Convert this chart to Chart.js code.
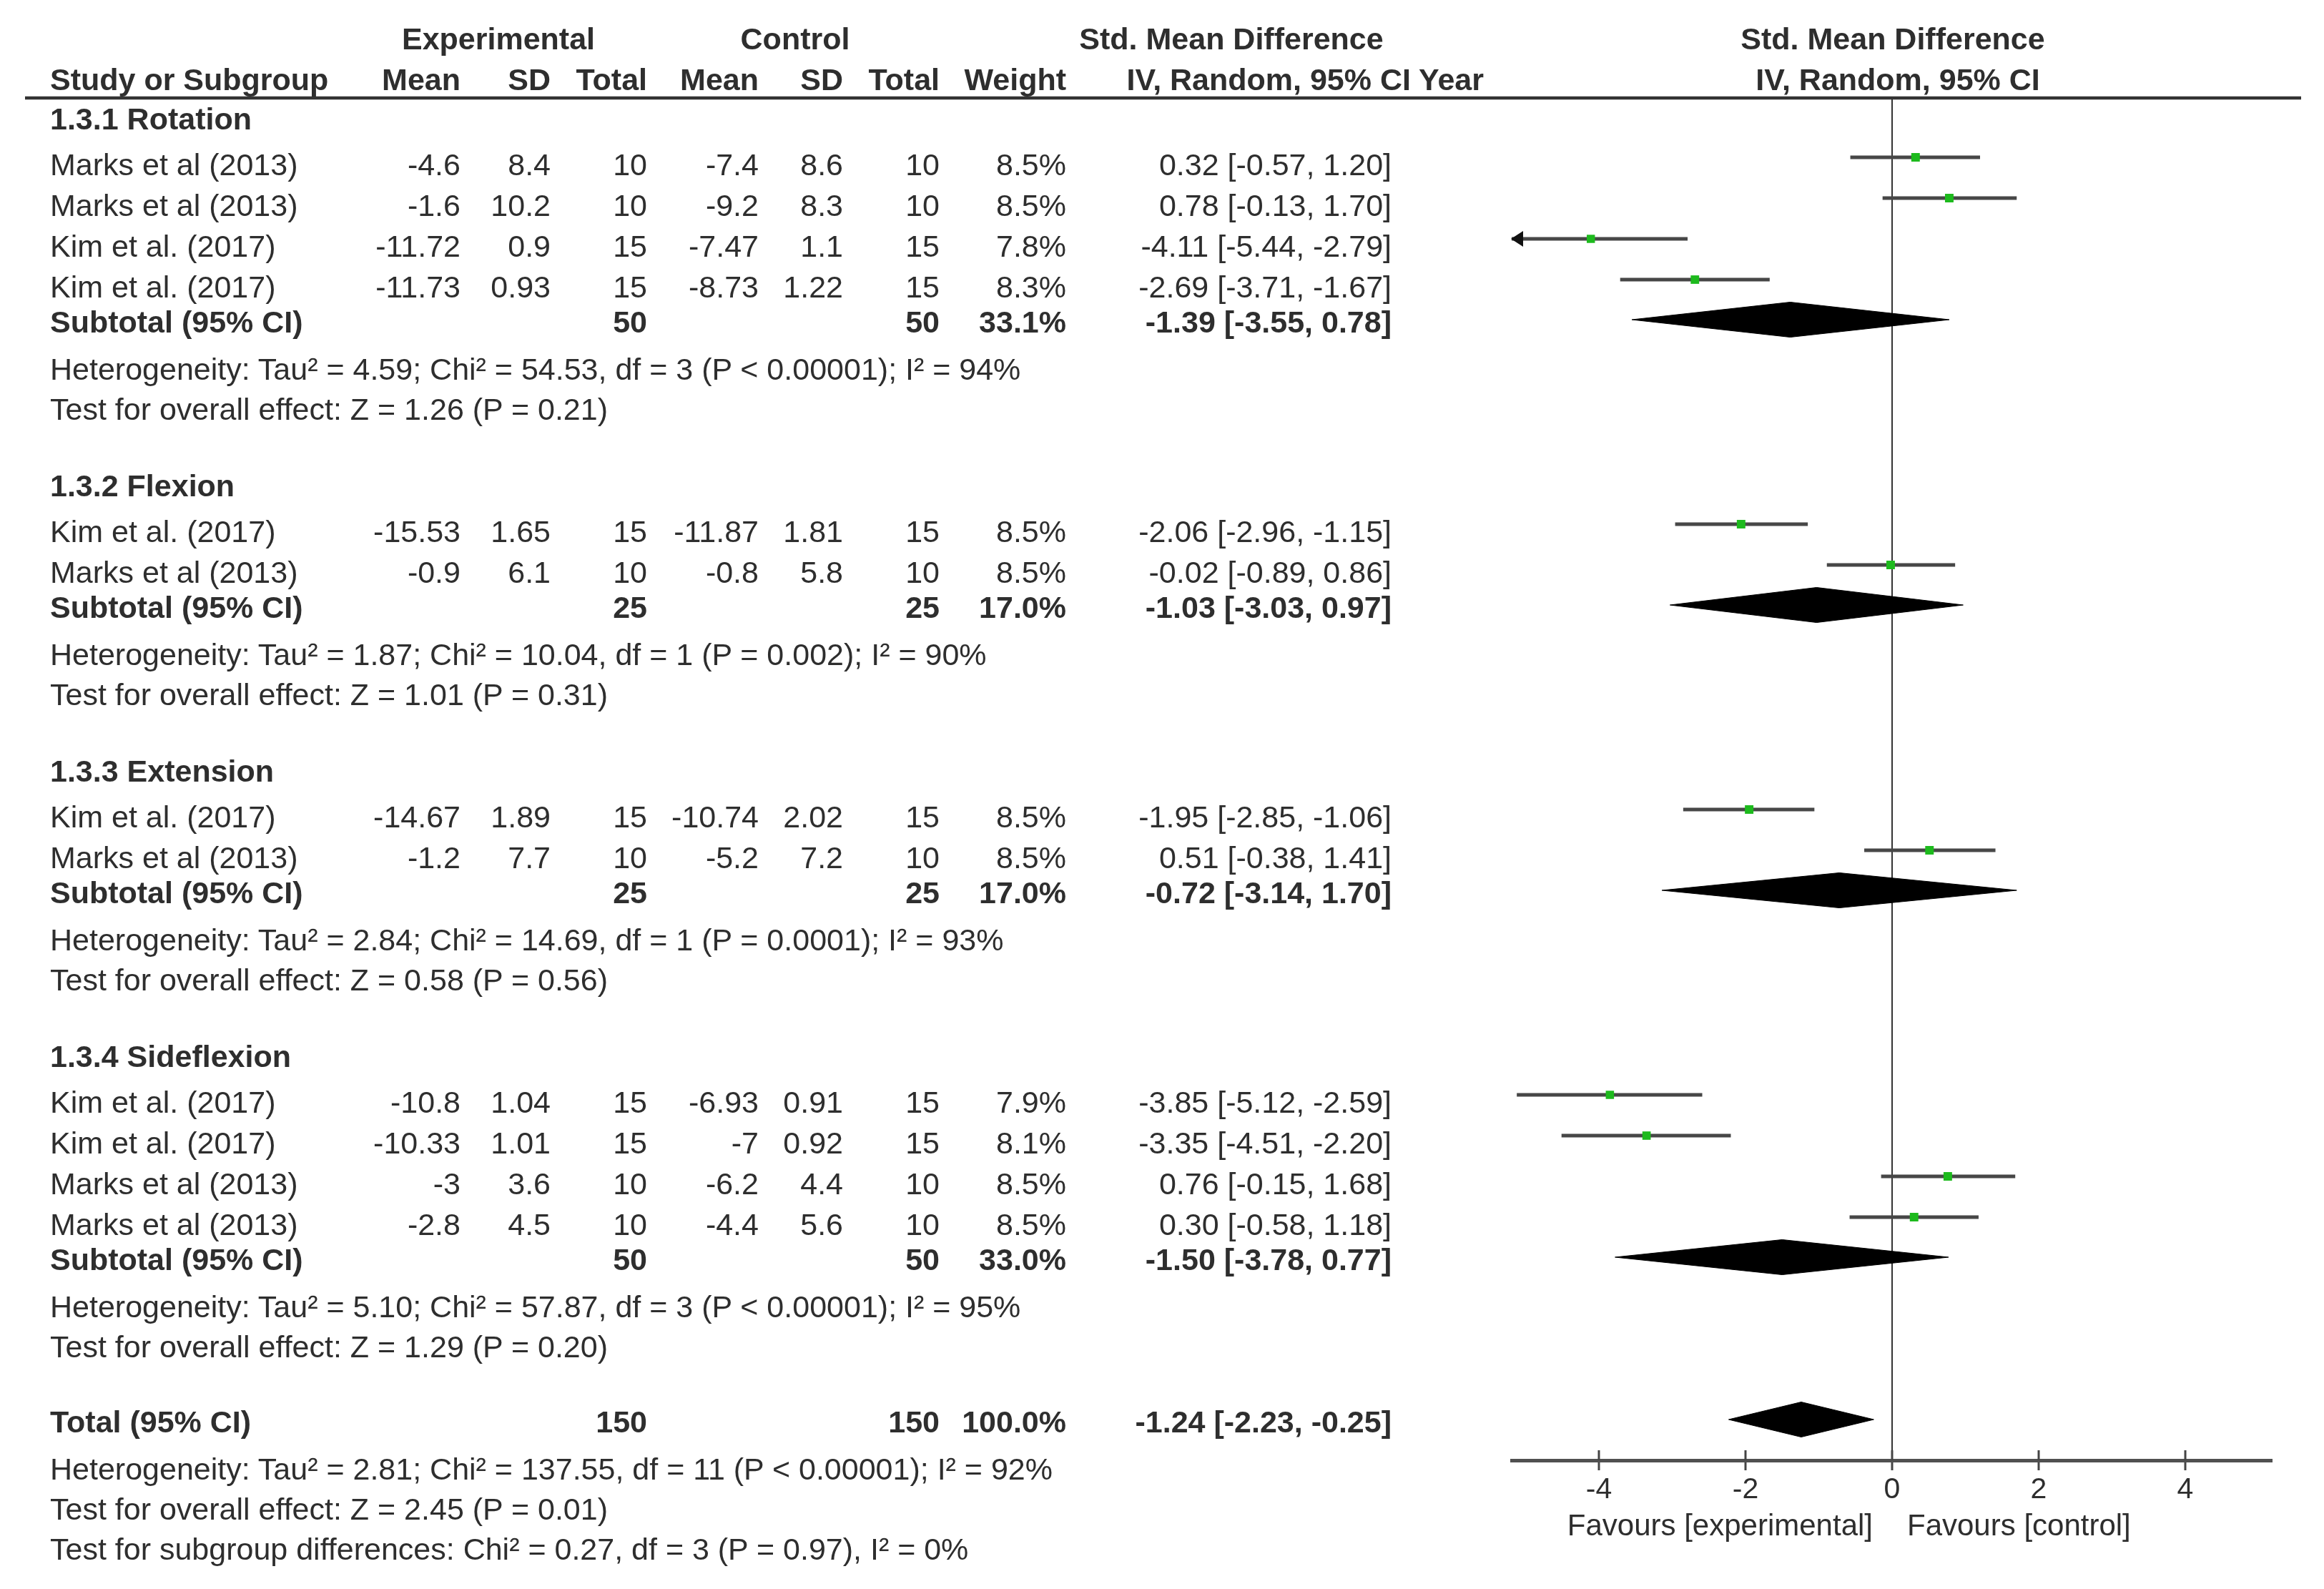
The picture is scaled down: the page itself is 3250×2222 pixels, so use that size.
<!DOCTYPE html>
<html><head><meta charset="utf-8">
<script src="https://cdn.jsdelivr.net/npm/chart.js@4.4.1/dist/chart.umd.min.js"></script>
<style>
html,body{margin:0;padding:0;background:#fff;}
#wrap{position:relative;width:3250px;height:2222px;overflow:hidden;background:#fff;}
#c{position:absolute;left:0;top:0;}
#ov{position:absolute;left:0;top:0;width:3250px;height:2222px;pointer-events:none;}
.t{position:absolute;white-space:nowrap;font-family:'Liberation Sans',Arial,sans-serif;color:#2e2e2e;}
.b{font-weight:bold;}
</style></head><body>
<div id="wrap"><canvas id="c" width="3250" height="2222"></canvas><div id="ov"></div></div>
<script>
// ---------------- DATA ----------------
const groups = ['1.3.1 Rotation', '1.3.2 Flexion', '1.3.3 Extension', '1.3.4 Sideflexion'];
const studyNames = ['Marks et al (2013)', 'Marks et al (2013)', 'Kim et al. (2017)', 'Kim et al. (2017)',
  'Kim et al. (2017)', 'Marks et al (2013)',
  'Kim et al. (2017)', 'Marks et al (2013)',
  'Kim et al. (2017)', 'Kim et al. (2017)', 'Marks et al (2013)', 'Marks et al (2013)'];
const studyGroup = [0, 0, 0, 0, 1, 1, 2, 2, 3, 3, 3, 3];
const expMean = [-4.6, -1.6, -11.72, -11.73, -15.53, -0.9, -14.67, -1.2, -10.8, -10.33, -3, -2.8];
const expSD   = [8.4, 10.2, 0.9, 0.93, 1.65, 6.1, 1.89, 7.7, 1.04, 1.01, 3.6, 4.5];
const expN    = [10, 10, 15, 15, 15, 10, 15, 10, 15, 15, 10, 10];
const ctlMean = [-7.4, -9.2, -7.47, -8.73, -11.87, -0.8, -10.74, -5.2, -6.93, -7, -6.2, -4.4];
const ctlSD   = [8.6, 8.3, 1.1, 1.22, 1.81, 5.8, 2.02, 7.2, 0.91, 0.92, 4.4, 5.6];
const ctlN    = [10, 10, 15, 15, 15, 10, 15, 10, 15, 15, 10, 10];
const weight  = [8.5, 8.5, 7.8, 8.3, 8.5, 8.5, 8.5, 8.5, 7.9, 8.1, 8.5, 8.5];
const smd     = [0.32, 0.78, -4.11, -2.69, -2.06, -0.02, -1.95, 0.51, -3.85, -3.35, 0.76, 0.30];
const ciLow   = [-0.57, -0.13, -5.44, -3.71, -2.96, -0.89, -2.85, -0.38, -5.12, -4.51, -0.15, -0.58];
const ciHigh  = [1.20, 1.70, -2.79, -1.67, -1.15, 0.86, -1.06, 1.41, -2.59, -2.20, 1.68, 1.18];

const subExpN  = [50, 25, 25, 50];
const subCtlN  = [50, 25, 25, 50];
const subWeight = [33.1, 17.0, 17.0, 33.0];
const subSmd   = [-1.39, -1.03, -0.72, -1.50];
const subLow   = [-3.55, -3.03, -3.14, -3.78];
const subHigh  = [0.78, 0.97, 1.70, 0.77];
const subHet = [
  'Heterogeneity: Tau² = 4.59; Chi² = 54.53, df = 3 (P < 0.00001); I² = 94%',
  'Heterogeneity: Tau² = 1.87; Chi² = 10.04, df = 1 (P = 0.002); I² = 90%',
  'Heterogeneity: Tau² = 2.84; Chi² = 14.69, df = 1 (P = 0.0001); I² = 93%',
  'Heterogeneity: Tau² = 5.10; Chi² = 57.87, df = 3 (P < 0.00001); I² = 95%'];
const subTest = [
  'Test for overall effect: Z = 1.26 (P = 0.21)',
  'Test for overall effect: Z = 1.01 (P = 0.31)',
  'Test for overall effect: Z = 0.58 (P = 0.56)',
  'Test for overall effect: Z = 1.29 (P = 0.20)'];

const totalExpN = 150, totalCtlN = 150, totalWeight = 100.0;
const totalSmd = -1.24, totalLow = -2.23, totalHigh = -0.25;
const totalNotes = [
  'Heterogeneity: Tau² = 2.81; Chi² = 137.55, df = 11 (P < 0.00001); I² = 92%',
  'Test for overall effect: Z = 2.45 (P = 0.01)',
  'Test for subgroup differences: Chi² = 0.27, df = 3 (P = 0.97), I² = 0%'];

const xTicks = [-4, -2, 0, 2, 4];
const X_MIN = -5.19, X_MAX = 5.19;
const favourLeft = 'Favours [experimental]', favourRight = 'Favours [control]';

// ---------------- LAYOUT ----------------
const W = 3250, H = 2222, FS = 43;
const AREA = {left: 2114, right: 3178, top: 137, bottom: 2042};
const ROW_PX = 57;
const GAP = {first: 29, headToRow: 64, row: 57, rowToSub: 49, subToHet: 66, hetToTest: 56, testToHead: 107, testToTotal: 105, note: 56};
const Y_MAX = (AREA.bottom - AREA.top) / ROW_PX;
const COL = {name: 70, em: 644, esd: 770, en: 905, cm: 1061, csd: 1179, cn: 1314, w: 1491, ci: 1946};

const lines = [];
let yy = GAP.first;
groups.forEach((g, gi) => {
  if (gi > 0) yy += GAP.testToHead;
  lines.push({kind: 'group', y: yy / ROW_PX, gi});
  let first = true;
  studyGroup.forEach((sg, i) => {
    if (sg !== gi) return;
    yy += first ? GAP.headToRow : GAP.row; first = false;
    lines.push({kind: 'study', y: yy / ROW_PX, i});
  });
  yy += GAP.rowToSub; lines.push({kind: 'sub', y: yy / ROW_PX, gi});
  yy += GAP.subToHet; lines.push({kind: 'note', y: yy / ROW_PX, text: subHet[gi]});
  yy += GAP.hetToTest; lines.push({kind: 'note', y: yy / ROW_PX, text: subTest[gi]});
});
yy += GAP.testToTotal; lines.push({kind: 'total', y: yy / ROW_PX});
yy += GAP.subToHet; lines.push({kind: 'note', y: yy / ROW_PX, text: totalNotes[0]});
yy += GAP.note; lines.push({kind: 'note', y: yy / ROW_PX, text: totalNotes[1]});
yy += GAP.note; lines.push({kind: 'note', y: yy / ROW_PX, text: totalNotes[2]});

const STUDY_SHIFT = 10 / ROW_PX, DIA_SHIFT = 3 / ROW_PX, DIA_H = 24.5 / ROW_PX;
const markY = [];
lines.filter(l => l.kind === 'study').forEach(l => { markY[l.i] = l.y - STUDY_SHIFT; });
const subY = lines.filter(l => l.kind === 'sub').map(l => l.y - DIA_SHIFT);
const totalY = lines.find(l => l.kind === 'total').y - DIA_SHIFT;

// ---------------- DATASETS ----------------
const datasets = [];
datasets.push({
  data: smd.map((v, i) => ({x: v, y: markY[i]})),
  showLine: false, pointStyle: 'rect',
  pointRadius: weight.map(w => 2.9 * Math.sqrt(w)),
  backgroundColor: '#1dba1d', borderColor: '#1dba1d', borderWidth: 0, order: 0
});
smd.forEach((v, i) => {
  datasets.push({
    data: [{x: ciLow[i], y: markY[i]}, {x: ciHigh[i], y: markY[i]}],
    borderColor: '#474747', borderWidth: 5, pointRadius: 0, fill: false, order: 1
  });
});
function diamond(est, lo, hi, yc) {
  return {
    data: [{x: lo, y: yc}, {x: est, y: yc - DIA_H}, {x: hi, y: yc}, {x: est, y: yc + DIA_H}, {x: lo, y: yc}],
    borderColor: '#000', backgroundColor: '#000', borderWidth: 1, pointRadius: 0, fill: 'shape', tension: 0, order: 2
  };
}
subSmd.forEach((v, g) => datasets.push(diamond(v, subLow[g], subHigh[g], subY[g])));
datasets.push(diamond(totalSmd, totalLow, totalHigh, totalY));

// ---------------- PLUGINS ----------------
const decor = {
  id: 'decor',
  afterDraw(chart) {
    const ctx = chart.ctx, xs = chart.scales.x, ys = chart.scales.y, ca = chart.chartArea;
    ctx.save();
    ctx.strokeStyle = '#333'; ctx.lineWidth = 4.5;
    ctx.beginPath(); ctx.moveTo(35, ca.top); ctx.lineTo(3218, ca.top); ctx.stroke();
    ctx.strokeStyle = '#444'; ctx.lineWidth = 3;
    xTicks.forEach(v => {
      const px = xs.getPixelForValue(v);
      ctx.beginPath(); ctx.moveTo(px, ca.bottom - 14); ctx.lineTo(px, ca.bottom); ctx.stroke();
    });
    ctx.fillStyle = '#111';
    ciLow.forEach((lo, i) => {
      if (lo < xs.min) {
        const px = xs.getPixelForValue(xs.min), py = ys.getPixelForValue(markY[i]);
        ctx.beginPath(); ctx.moveTo(px - 1, py); ctx.lineTo(px + 16, py - 11); ctx.lineTo(px + 16, py + 11); ctx.closePath(); ctx.fill();
      }
    });
    ctx.restore();
  }
};

const chart = new Chart(document.getElementById('c'), {
  type: 'line',
  data: {datasets},
  options: {
    responsive: false, animation: false, devicePixelRatio: 1, events: [],
    layout: {padding: {left: AREA.left, right: W - AREA.right, top: AREA.top, bottom: H - AREA.bottom - 68}},
    plugins: {legend: {display: false}, tooltip: {enabled: false}},
    scales: {
      x: {
        type: 'linear', min: X_MIN, max: X_MAX,
        afterBuildTicks: s => { s.ticks = xTicks.map(v => ({value: v})); },
        afterFit: s => { s.height = 68; },
        ticks: {font: {family: 'Liberation Sans', size: 41}, color: '#2e2e2e', padding: 3, autoSkip: false, maxRotation: 0, callback: v => String(v)},
        grid: {
          drawOnChartArea: true, drawTicks: true, tickLength: 14,
          color: c => (c.tick && c.tick.value === 0) ? '#333' : 'rgba(0,0,0,0)',
          lineWidth: c => (c.tick && c.tick.value === 0) ? 2 : 0,
          tickColor: '#444', tickWidth: 3
        },
        border: {display: true, color: '#505050', width: 5}
      },
      y: {type: 'linear', reverse: true, min: 0, max: Y_MAX, display: false}
    }
  },
  plugins: [decor]
});

// ---------------- TEXT OVERLAY ----------------
const ov = document.getElementById('ov');
function put(txt, x, yc, align, bold, size) {
  const d = document.createElement('div');
  d.className = 't' + (bold ? ' b' : '');
  d.textContent = txt;
  const fs = size || FS;
  d.style.fontSize = fs + 'px'; d.style.lineHeight = fs + 'px';
  d.style.top = (yc - fs / 2) + 'px';
  if (align === 'left') d.style.left = x + 'px';
  else if (align === 'right') d.style.right = (W - x) + 'px';
  else { d.style.left = x + 'px'; d.style.transform = 'translateX(-50%)'; }
  ov.appendChild(d);
}
const ys = chart.scales.y, xs = chart.scales.x;
const zeroPx = xs.getPixelForValue(0);
const fmtCI = (e, l, h) => `${e.toFixed(2)} [${l.toFixed(2)}, ${h.toFixed(2)}]`;

put('Experimental', 697, 54, 'center', true);
put('Control', 1112, 54, 'center', true);
put('Std. Mean Difference', 1722, 54, 'center', true);
put('Std. Mean Difference', zeroPx + 1, 54, 'center', true);
put('Study or Subgroup', COL.name, 111, 'left', true);
put('Mean', COL.em, 111, 'right', true);
put('SD', COL.esd, 111, 'right', true);
put('Total', COL.en, 111, 'right', true);
put('Mean', COL.cm, 111, 'right', true);
put('SD', COL.csd, 111, 'right', true);
put('Total', COL.cn, 111, 'right', true);
put('Weight', COL.w, 111, 'right', true);
put('IV, Random, 95% CI Year', 2075, 111, 'right', true);
put('IV, Random, 95% CI', zeroPx + 8, 111, 'center', true);

lines.forEach(l => {
  const py = ys.getPixelForValue(l.y);
  if (l.kind === 'group') put(groups[l.gi], COL.name, py, 'left', true);
  else if (l.kind === 'study') {
    const i = l.i;
    put(studyNames[i], COL.name, py, 'left');
    put(String(expMean[i]), COL.em, py, 'right');
    put(String(expSD[i]), COL.esd, py, 'right');
    put(String(expN[i]), COL.en, py, 'right');
    put(String(ctlMean[i]), COL.cm, py, 'right');
    put(String(ctlSD[i]), COL.csd, py, 'right');
    put(String(ctlN[i]), COL.cn, py, 'right');
    put(weight[i].toFixed(1) + '%', COL.w, py, 'right');
    put(fmtCI(smd[i], ciLow[i], ciHigh[i]), COL.ci, py, 'right');
  } else if (l.kind === 'sub') {
    const g = l.gi;
    put('Subtotal (95% CI)', COL.name, py, 'left', true);
    put(String(subExpN[g]), COL.en, py, 'right', true);
    put(String(subCtlN[g]), COL.cn, py, 'right', true);
    put(subWeight[g].toFixed(1) + '%', COL.w, py, 'right', true);
    put(fmtCI(subSmd[g], subLow[g], subHigh[g]), COL.ci, py, 'right', true);
  } else if (l.kind === 'total') {
    put('Total (95% CI)', COL.name, py, 'left', true);
    put(String(totalExpN), COL.en, py, 'right', true);
    put(String(totalCtlN), COL.cn, py, 'right', true);
    put(totalWeight.toFixed(1) + '%', COL.w, py, 'right', true);
    put(fmtCI(totalSmd, totalLow, totalHigh), COL.ci, py, 'right', true);
  } else {
    put(l.text, COL.name, py, 'left');
  }
});
put(favourLeft, zeroPx - 27, 2133, 'right', false, 42);
put(favourRight, zeroPx + 21, 2133, 'left', false, 42);
</script>
</body></html>
